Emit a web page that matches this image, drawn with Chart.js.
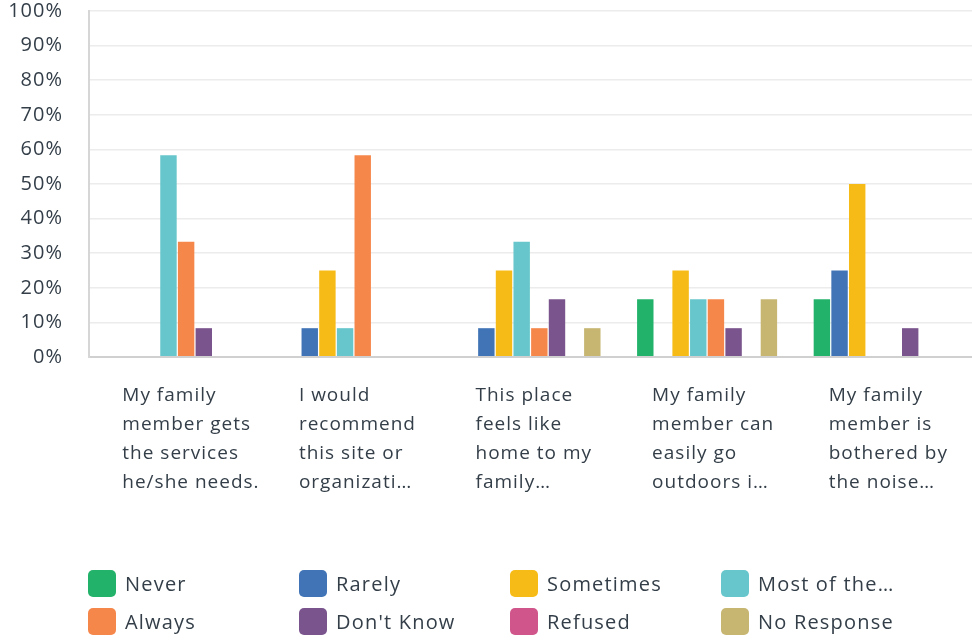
<!DOCTYPE html>
<html>
<head>
<meta charset="utf-8">
<script src="https://cdn.jsdelivr.net/npm/chart.js@4/dist/chart.umd.min.js"></script>
<style>
  html, body { margin: 0; padding: 0; background: #fff; }
  #wrap { position: relative; width: 972px; height: 640px; }
  #legend {
    position: absolute; left: 88px; top: 570px;
    display: grid; grid-template-columns: repeat(4, 211px); row-gap: 11px;
    font-family: "Open Sans", sans-serif; font-size: 20px; color: #333e48;
    letter-spacing: 1.2px;
  }
  .item { display: flex; align-items: center; height: 27px; white-space: nowrap; }
  .box { width: 28px; height: 27px; border-radius: 5px; margin-right: 9px; }
</style>
</head>
<body>
<div id="wrap">
  <canvas id="chart" width="972" height="640"></canvas>
  <div id="legend"></div>
</div>
<script>
const categories = [
  ["My family", "member gets", "the services", "he/she needs."],
  ["I would", "recommend", "this site or", "organizati\u2026"],
  ["This place", "feels like", "home to my", "family\u2026"],
  ["My family", "member can", "easily go", "outdoors i\u2026"],
  ["My family", "member is", "bothered by", "the noise\u2026"]
];
const yTicks = [0, 10, 20, 30, 40, 50, 60, 70, 80, 90, 100];

const seriesNames = ["Never", "Rarely", "Sometimes", "Most of the\u2026", "Always", "Don't Know", "Refused", "No Response"];
const seriesColors = ["#23b26a", "#4174b6", "#f7bb17", "#66c6cb", "#f6874b", "#7a548d", "#d0558b", "#c6b672"];

const never      = [0, 0, 0, 16.67, 16.67];
const rarely     = [0, 8.33, 8.33, 0, 25];
const sometimes  = [0, 25, 25, 25, 50];
const mostOfThe  = [58.33, 8.33, 33.33, 16.67, 0];
const always     = [33.33, 58.33, 8.33, 16.67, 0];
const dontKnow   = [8.33, 0, 16.67, 8.33, 8.33];
const refused    = [0, 0, 0, 0, 0];
const noResponse = [0, 0, 8.33, 16.67, 0];

const seriesValues = [never, rarely, sometimes, mostOfThe, always, dontKnow, refused, noResponse];

const textColor = "#333e48";

// wider tracking, like the survey font
const spacingPlugin = {
  id: "spacing",
  beforeDraw: (chart) => {
    chart.ctx.letterSpacing = "1px";
  }
};

const ctx = document.getElementById("chart").getContext("2d");
new Chart(ctx, {
  type: "bar",
  data: {
    labels: categories,
    datasets: seriesNames.map((name, i) => ({
      label: name,
      data: seriesValues[i],
      backgroundColor: seriesColors[i],
      categoryPercentage: 0.8,
      barPercentage: 0.93
    }))
  },
  plugins: [spacingPlugin],
  options: {
    responsive: false,
    animation: false,
    layout: { padding: { top: 0, right: 0, bottom: 145, left: 0 } },
    plugins: {
      legend: { display: false },
      tooltip: { enabled: false }
    },
    scales: {
      x: {
        grid: { display: false, drawTicks: false },
        border: { color: "#d0d0d0", width: 2 },
        ticks: {
          align: "start",
          labelOffset: -55,
          padding: 24,
          color: textColor,
          font: { family: "Open Sans", size: 19, lineHeight: 1.53 },
          maxRotation: 0,
          autoSkip: false
        },
        afterFit: (scale) => {
          scale.height = 138;
          scale.paddingLeft = 0;
          scale.paddingRight = 0;
          scale.paddingTop = 0;
          scale.paddingBottom = 0;
        }
      },
      y: {
        min: 0,
        max: 100,
        afterBuildTicks: (scale) => {
          scale.ticks = yTicks.map((v) => ({ value: v }));
        },
        grid: {
          drawTicks: false,
          color: (c) => (c.index === 0 ? "#d0d0d0" : "#ececec"),
          lineWidth: (c) => (c.index === 0 ? 2 : 1.5)
        },
        border: { color: "#d6d6d6", width: 2 },
        ticks: {
          padding: 26,
          color: textColor,
          font: { family: "Open Sans", size: 20 },
          callback: (v) => v + "%"
        },
        afterFit: (scale) => {
          scale.width = 89;
          scale.paddingTop = 11;
          scale.paddingBottom = 0;
        }
      }
    }
  }
});

const legend = document.getElementById("legend");
seriesNames.forEach((name, i) => {
  const item = document.createElement("div");
  item.className = "item";
  const box = document.createElement("span");
  box.className = "box";
  box.style.background = seriesColors[i];
  const label = document.createElement("span");
  label.textContent = name;
  item.appendChild(box);
  item.appendChild(label);
  legend.appendChild(item);
});
</script>
</body>
</html>
